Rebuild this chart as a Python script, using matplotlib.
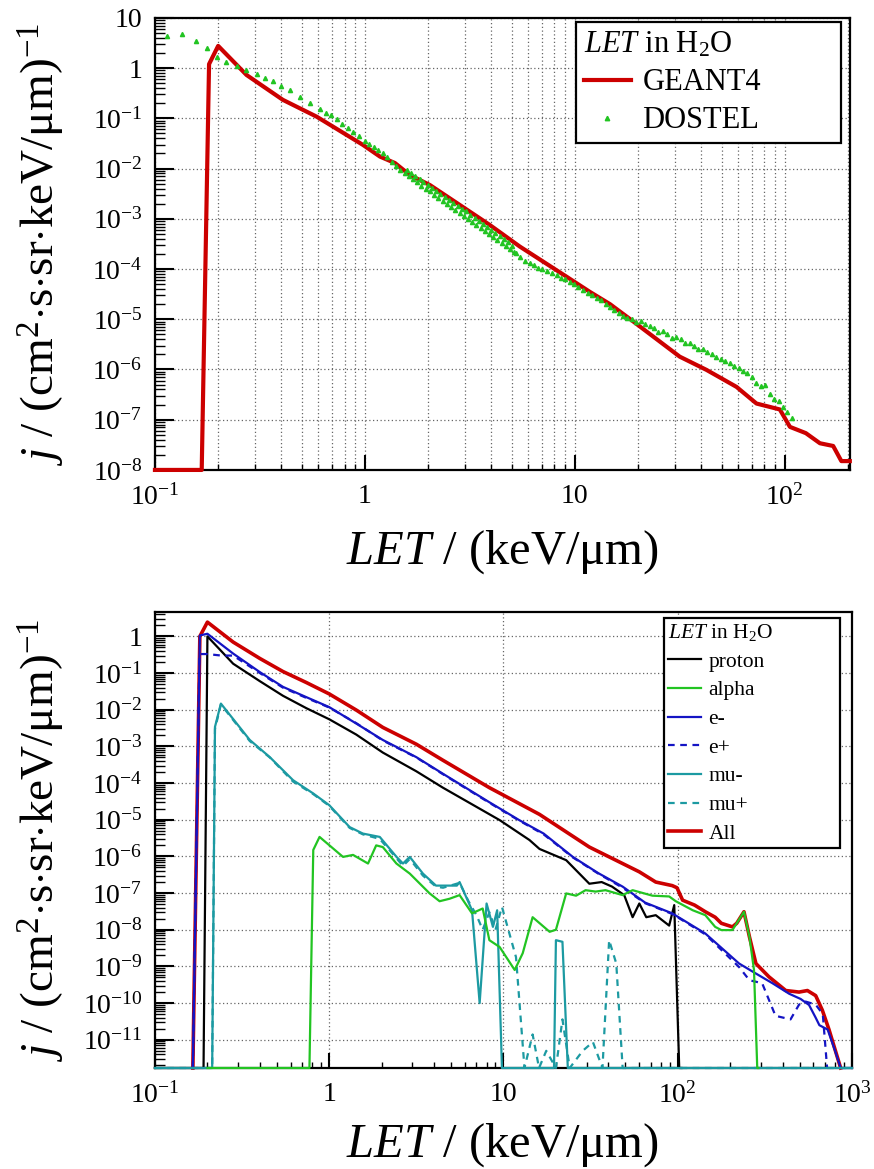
import numpy as np
import matplotlib.pyplot as plt
from matplotlib.lines import Line2D
from matplotlib.ticker import LogLocator, FuncFormatter, NullFormatter

plt.rcParams['font.family'] = ['Liberation Serif', 'DejaVu Serif']
plt.rcParams['mathtext.fontset'] = 'custom'
plt.rcParams['mathtext.rm'] = 'Liberation Serif'
plt.rcParams['mathtext.it'] = 'Liberation Serif:italic'
plt.rcParams['mathtext.bf'] = 'Liberation Serif:bold'

# ---- top panel: GEANT4 vs DOSTEL ----
geant_let = [0.1, 0.167, 0.181, 0.2, 0.273, 0.407, 0.589, 0.98, 1.18, 1.39, 1.64, 2.04,
             3.94, 5.47, 9.1, 11.8, 14.7, 19, 31.6, 42.4, 58.9, 73.3, 94.7, 105.8,
             126, 147, 170, 186, 204]
geant_flux = [1e-8, 1e-8, 1.2, 2.77, 0.73, 0.233, 0.108, 0.0295, 0.0173, 0.0129, 0.0074, 0.0047,
              7.5e-4, 2.8e-4, 7.1e-5, 3.5e-5, 2.0e-5, 9.0e-6, 1.8e-6, 9.8e-7, 4.5e-7, 2.1e-7, 1.6e-7, 7.2e-8,
              5.4e-8, 3.4e-8, 3.0e-8, 1.5e-8, 1.5e-8]

dostel_let = [0.114, 0.135, 0.156, 0.177, 0.197, 0.219, 0.245, 0.27, 0.305, 0.335, 0.366, 0.40,
              0.44, 0.49, 0.547, 0.61, 0.65, 0.69, 0.735, 0.78, 0.83, 0.88, 0.94, 1.0, 1.05,
              1.1, 1.16, 1.22, 1.28, 1.35, 1.41, 1.47,
              # dense band
              1.55, 1.58, 1.62, 1.66, 1.7, 1.74, 1.78, 1.82, 1.86, 1.9, 1.95, 2.0, 2.04, 2.09,
              2.14, 2.19, 2.24, 2.29, 2.35, 2.4, 2.46, 2.52, 2.58, 2.64, 2.7, 2.77, 2.83, 2.9,
              2.96, 3.03, 3.1, 3.17, 3.25, 3.33, 3.4, 3.48, 3.56, 3.65, 3.73, 3.82, 3.9, 4.0,
              4.09, 4.18, 4.28, 4.38, 4.48, 4.59, 4.7, 4.81, 4.92, 5.03, 5.15, 5.27,
              # sparse tail
              5.5, 5.8, 6.1, 6.4, 6.7, 7.0, 7.4, 7.8, 8.2, 8.6, 9.0, 9.5, 9.9, 10.4, 10.9,
              11.5, 12.1, 12.7, 13.3, 14.0, 14.7, 15.4, 16.2, 17.0, 17.8, 18.7, 19.6, 20.6,
              21.6, 22.7, 23.8, 25.0, 26.3, 27.6, 29.0, 30.4, 31.9, 33.5, 35.2, 37.0, 38.8,
              40.8, 42.8, 45.0, 47.2, 49.6, 52.0, 54.6, 57.4, 60.2, 63.2, 66.4, 69.7, 73.2,
              76.9, 80.7, 84.8, 89.0, 93.4, 98.1, 103, 108]
dostel_flux = [4.4, 4.7, 3.5, 2.5, 1.7, 1.35, 1.1, 0.9, 0.755, 0.65, 0.556, 0.45,
               0.368, 0.27, 0.2, 0.15, 0.13, 0.117, 0.095, 0.078, 0.065, 0.054, 0.045, 0.036, 0.031,
               0.027, 0.023, 0.020, 0.017, 0.0135, 0.0115, 0.0093,
               8.0e-3, 9.5e-3, 7.0e-3, 8.2e-3, 6.1e-3, 7.2e-3, 5.3e-3, 6.3e-3, 4.6e-3, 5.5e-3, 4.0e-3, 4.7e-3, 3.5e-3, 4.1e-3,
               3.0e-3, 3.6e-3, 2.6e-3, 3.1e-3, 2.3e-3, 2.7e-3, 2.0e-3, 2.4e-3, 1.75e-3, 2.1e-3, 1.5e-3, 1.8e-3, 1.3e-3, 1.6e-3,
               1.15e-3, 1.4e-3, 1.0e-3, 1.2e-3, 8.7e-4, 1.05e-3, 7.6e-4, 9.0e-4, 6.6e-4, 8.0e-4, 5.8e-4, 7.0e-4, 5.0e-4, 6.0e-4,
               4.4e-4, 5.2e-4, 3.8e-4, 4.5e-4, 3.3e-4, 3.9e-4, 2.9e-4, 3.4e-4, 2.5e-4, 2.9e-4, 2.2e-4, 2.06e-4,
               1.7e-4, 1.45e-4, 1.3e-4, 1.2e-4, 1.05e-4, 1.0e-4, 9.0e-5, 8.2e-5, 7.6e-5, 6.6e-5, 6.2e-5, 5.5e-5, 5.0e-5, 4.4e-5, 3.9e-5,
               3.4e-5, 3.0e-5, 2.6e-5, 2.4e-5, 2.0e-5, 1.75e-5, 1.55e-5, 1.35e-5, 1.15e-5, 1.05e-5, 1.0e-5, 9.0e-6, 9.2e-6,
               8.0e-6, 7.4e-6, 6.8e-6, 5.6e-6, 5.9e-6, 5.0e-6, 4.2e-6, 4.4e-6, 4.0e-6, 3.4e-6, 3.3e-6, 3.0e-6, 2.6e-6,
               2.5e-6, 2.2e-6, 2.0e-6, 1.75e-6, 1.65e-6, 1.5e-6, 1.35e-6, 1.2e-6, 1.05e-6, 9.5e-7, 8.5e-7, 7.2e-7, 5.5e-7,
               4.6e-7, 4.8e-7, 3.2e-7, 2.6e-7, 2.4e-7, 1.8e-7, 1.4e-7, 1.07e-7]

# ---- bottom panel: GEANT4 by particle ----
FLOOR = 1.7e-12  # empty bins sit on the lower frame

proton_let = [0.1, 0.19, 0.2, 0.281, 0.4, 0.543, 0.74, 1.0, 1.43, 2.03, 3.16, 4.49, 9.5,
              14.1, 16.1, 22.9, 31.1, 36.6, 42, 49.3, 55.1, 60.2, 66, 74.8, 89.3, 95.5, 102, 105]
proton_flux = [FLOOR, FLOOR, 1.0, 0.18, 0.06, 0.024, 0.011, 5.5e-3, 2.1e-3, 6.8e-4, 2.1e-4, 7.5e-5, 9.8e-6,
               2.8e-6, 1.6e-6, 7.9e-7, 1.8e-7, 2.0e-7, 1.5e-7, 8.8e-8, 2.2e-8, 5.2e-8, 2.2e-8, 2.5e-8, 1.3e-8, 4.7e-8, FLOOR, FLOOR]

alpha_let = [0.2, 0.77, 0.81, 0.88, 1.2, 1.37, 1.67, 1.86, 2.03, 2.43, 2.9, 3.77, 4.3, 4.9, 5.6,
             6.6, 7.6, 8.3, 9.5, 11.6, 12.9, 14.7, 18.4, 20, 22.9, 26.1, 29.6, 33.8, 38.5, 48.3,
             55.1, 71.6, 89.3, 97.5, 122, 144, 164, 178, 206, 218, 240, 258, 274, 286, 290]
alpha_flux = [FLOOR, FLOOR, 1.5e-6, 3.4e-6, 9.7e-7, 1.1e-6, 6.4e-7, 2.0e-6, 1.8e-6, 6.4e-7, 3.4e-7, 9.8e-8, 6e-8, 7e-8, 8.8e-8,
              2.8e-8, 3.8e-8, 5.2e-9, 3.4e-9, 8e-10, 2.3e-9, 2.2e-8, 8.8e-9, 1e-8, 9.8e-8, 8.5e-8, 1.2e-7, 1.1e-7, 1.2e-7, 8.8e-8,
              1.2e-7, 8.5e-8, 8.1e-8, 6e-8, 3.4e-8, 2.5e-8, 1.2e-8, 9.8e-9, 9.8e-9, 1.5e-8, 3.1e-8, 6.4e-9, 8e-10, FLOOR, FLOOR]

eminus_let = [0.165, 0.181, 0.2, 0.281, 0.4, 0.543, 0.74, 1.0, 1.43, 2.03, 3.16, 4.49, 8.3, 12.3, 17,
              25, 35, 48.3, 65, 93, 144, 225, 281, 349, 436, 507, 567, 619, 650, 725, 800, 861, 1000]
eminus_flux = [FLOOR, 1.06, 1.18, 0.34, 0.106, 0.042, 0.022, 0.0118, 4.2e-3, 1.5e-3, 5.1e-4, 1.8e-4, 3.0e-5, 9.8e-6, 4.2e-6,
               9.7e-7, 3.5e-7, 1.5e-7, 5.5e-8, 2.8e-8, 7.9e-9, 1.2e-9, 6.4e-10, 3.5e-10, 1.8e-10, 1.3e-10, 8.9e-11, 4e-11, 2.5e-11, 1.9e-11, 5e-12, FLOOR, FLOOR]

eplus_let = [0.165, 0.18, 0.2, 0.24, 0.281, 0.4, 0.543, 0.74, 1.0, 1.43, 2.03, 3.16, 4.49, 8.3, 12.3, 17,
             25, 35, 48.3, 65, 93, 144, 225, 258, 305, 364, 444, 497, 542, 619, 680, 720]
eplus_flux = [FLOOR, 0.33, 0.33, 0.3, 0.3, 0.1, 0.04, 0.021, 0.0115, 4.3e-3, 1.45e-3, 5.0e-4, 1.75e-4, 2.9e-5, 9.5e-6, 4.0e-6,
              9.4e-7, 3.4e-7, 1.4e-7, 5.3e-8, 2.7e-8, 7.5e-9, 9.6e-10, 4.2e-10, 3.5e-10, 4.5e-11, 3.6e-11, 9.1e-11, 1.1e-10, 9.1e-11, 5e-11, FLOOR]

muminus_let = [0.1, 0.213, 0.221, 0.239, 0.35, 0.456, 0.62, 0.81, 1.0, 1.31, 1.56, 1.95, 2.43, 2.65, 2.9,
               3.45, 4.1, 4.5, 5.4, 5.6, 6.6, 7.3, 8.0, 8.7, 9.2, 9.8, 19.5, 20, 21.8, 23.4, 1000]
muminus_flux = [FLOOR, FLOOR, 3.4e-3, 0.0147, 1.5e-3, 5.1e-4, 1.2e-4, 5.2e-5, 2.5e-5, 6.3e-6, 4.2e-6, 3.4e-6, 9.8e-7, 6.4e-7, 9.7e-7,
                3.4e-7, 1.6e-7, 1.6e-7, 1.6e-7, 2e-7, 3.4e-8, 1e-10, 5.2e-8, 1.2e-8, 3.4e-8, FLOOR, FLOOR, 5.2e-9, 4.7e-9, FLOOR, FLOOR]

muplus_let = [0.1, 0.213, 0.221, 0.239, 0.35, 0.456, 0.62, 0.81, 1.0, 1.31, 1.56, 1.95, 2.43, 2.65, 2.9,
              3.45, 4.1, 4.5, 5.6, 6.3, 7.0, 7.6, 8.3, 9.0, 9.8, 11.8, 13.2, 14.7, 16, 17.6, 20, 21.8,
              24, 28.5, 32.6, 37, 40.4, 44.4, 48.3, 1000]
muplus_flux = [FLOOR, FLOOR, 3.0e-3, 0.014, 1.4e-3, 5.0e-4, 1.1e-4, 5.0e-5, 2.4e-5, 6.0e-6, 4.0e-6, 3.0e-6, 9.0e-7, 5.5e-7, 8.5e-7,
               3.0e-7, 1.5e-7, 1.4e-7, 1.9e-7, 6e-8, 2.5e-8, 1e-8, 3e-8, 1e-8, 4.2e-8, 1.8e-9, FLOOR, 1.4e-11, FLOOR, 5e-12, FLOOR, 3.6e-11,
               FLOOR, 5e-12, 8.7e-12, FLOOR, 5.2e-9, 1.2e-9, FLOOR, FLOOR]

all_let = [0.165, 0.181, 0.2, 0.281, 0.4, 0.543, 0.74, 1.0, 1.43, 2.03, 3.16, 4.49, 8.3, 16.1, 31.1,
           60.2, 74.8, 93, 99, 106.7, 125, 144, 164, 178, 206, 218, 240, 258, 281, 334, 417, 497,
           555, 619, 676, 738, 861]
all_flux = [FLOOR, 1.0, 2.45, 0.7, 0.25, 0.11, 0.055, 0.027, 9.8e-3, 3.3e-3, 1.15e-3, 4.2e-4, 7.5e-5, 1.4e-5, 1.8e-6,
            3.8e-7, 2.0e-7, 1.6e-7, 1.4e-7, 6.4e-8, 4.7e-8, 3.1e-8, 2.2e-8, 1.5e-8, 1.2e-8, 1.5e-8, 3.1e-8, 6.4e-9, 1.2e-9, 5.2e-10, 2.2e-10, 2.0e-10,
            2.2e-10, 1.6e-10, 6.4e-11, 1.9e-11, FLOOR]

RED = '#cc0000'
GREEN = '#22c422'
BLUE = '#1414c4'
TEAL = '#1c9aa2'


def log_label(v, pos):
    e = int(round(np.log10(v)))
    if e == 0:
        return '1'
    if e == 1:
        return '10'
    return r'$10^{%d}$' % e


def style_axes(ax, xdecades, ydecades, minor_xgrid):
    ax.set_xscale('log')
    ax.set_yscale('log')
    for s in ax.spines.values():
        s.set_linewidth(1.6)
    # only the decades that fall inside the frame get a label
    ax.set_xticks([10.0 ** e for e in xdecades])
    ax.set_yticks([10.0 ** e for e in ydecades])
    ax.xaxis.set_minor_locator(LogLocator(base=10, subs=np.arange(2, 10), numticks=100))
    ax.yaxis.set_minor_locator(LogLocator(base=10, subs=np.arange(2, 10), numticks=200))
    ax.xaxis.set_major_formatter(FuncFormatter(log_label))
    ax.yaxis.set_major_formatter(FuncFormatter(log_label))
    ax.xaxis.set_minor_formatter(NullFormatter())
    ax.yaxis.set_minor_formatter(NullFormatter())
    ax.tick_params(which='both', direction='in', top=False, right=False, colors='black')
    ax.tick_params(axis='y', which='major', length=14, width=1.5, pad=9, labelsize=20)
    ax.tick_params(axis='y', which='minor', length=7, width=1.0)
    ax.tick_params(axis='x', which='major', length=11, width=1.5, pad=10, labelsize=20)
    ax.tick_params(axis='x', which='minor', length=4.5, width=1.0)
    grid_kw = dict(ls=(0, (1, 2)), color='#666666', lw=0.9)
    ax.grid(True, which='major', axis='both', **grid_kw)
    if minor_xgrid:
        ax.grid(True, which='minor', axis='x', **grid_kw)
    ax.set_axisbelow(True)


fig = plt.figure(figsize=(8.74, 11.69), dpi=100)

# top panel
ax1 = fig.add_axes([0.1773, 0.598, 0.795, 0.3867])
style_axes(ax1, range(-1, 3), range(-8, 2), minor_xgrid=True)
ax1.plot(geant_let, geant_flux, color=RED, lw=3.0, zorder=3, clip_on=False)
ax1.plot(dostel_let, dostel_flux, ls='none', marker='^', ms=3.0, color=GREEN, mec=GREEN, zorder=4)
ax1.set_xlim(0.1, 204)
ax1.set_ylim(1e-8, 10)

h_top = [Line2D([], [], color=RED, lw=3.0),
         Line2D([], [], ls='none', marker='^', ms=3.2, color=GREEN)]
leg1 = ax1.legend(h_top, ['GEANT4', 'DOSTEL'], title=r'$LET$ in H$_2$O',
                  loc='upper left', bbox_to_anchor=(0.6058, 0.5, 0.381, 0.491), mode='expand',
                  borderaxespad=0, fontsize=22, title_fontsize=22, fancybox=False,
                  edgecolor='black', framealpha=1, handlelength=1.55, handletextpad=0.38,
                  labelspacing=0.3, borderpad=0.25, alignment='left')
leg1.get_frame().set_linewidth(1.6)

# bottom panel
ax2 = fig.add_axes([0.1773, 0.0864, 0.7975, 0.390])
style_axes(ax2, range(-1, 4), range(-11, 1), minor_xgrid=False)
series = [
    ('proton', proton_let, proton_flux, 'black', '-', 1.6, 3.0),
    ('alpha', alpha_let, alpha_flux, GREEN, '-', 1.6, 3.2),
    ('e-', eminus_let, eminus_flux, BLUE, '-', 1.6, 3.0),
    ('e+', eplus_let, eplus_flux, BLUE, (0, (3, 2.5)), 1.6, 3.0),
    ('mu-', muminus_let, muminus_flux, TEAL, '-', 1.6, 3.1),
    ('mu+', muplus_let, muplus_flux, TEAL, (0, (3, 2.5)), 1.6, 3.1),
    ('All', all_let, all_flux, RED, '-', 2.6, 2.9),
]
handles = []
for name, xs, ys, col, ls, lw, z in series:
    line, = ax2.plot(xs, ys, color=col, ls=ls, lw=lw, zorder=z, clip_on=False, label=name)
    handles.append(line)
ax2.set_xlim(0.1, 1000)
ax2.set_ylim(FLOOR, 4.6)

leg2 = ax2.legend(handles, [s[0] for s in series], title=r'$LET$ in H$_2$O',
                  loc='upper left', bbox_to_anchor=(0.7303, 0.5, 0.2525, 0.4877), mode='expand',
                  borderaxespad=0, fontsize=15.5, title_fontsize=15.5, fancybox=False,
                  edgecolor='black', framealpha=1, handlelength=1.5, handletextpad=0.36,
                  labelspacing=0.4, borderpad=0.2, alignment='left')
leg2.get_frame().set_linewidth(1.6)
leg2.set_zorder(5)

# axis titles
ylab = r'$j$ / (cm$^2$$\cdot$s$\cdot$sr$\cdot$keV/μm)$^{-1}$'
xlab = r'$LET$ / (keV/μm)'
fig.text(0.048, 0.791, ylab, rotation=90, ha='center', va='center', fontsize=34)
fig.text(0.048, 0.281, ylab, rotation=90, ha='center', va='center', fontsize=34)
fig.text(0.575, 1 - 564 / 1169, xlab, ha='center', va='baseline', fontsize=35)
fig.text(0.575, 1 - 1157 / 1169, xlab, ha='center', va='baseline', fontsize=35)

fig.savefig('out.png', dpi=100)
